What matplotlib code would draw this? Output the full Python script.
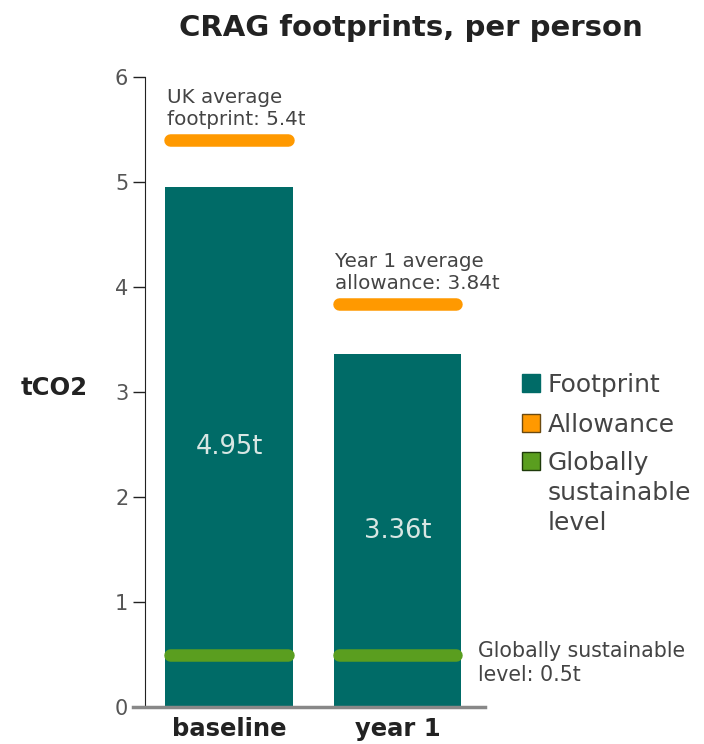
import matplotlib
matplotlib.use("Agg")
import matplotlib.pyplot as plt
from matplotlib.patches import Rectangle

categories = ["baseline", "year 1"]
footprint = [4.95, 3.36]
allowance = [5.4, 3.84]
sustainable = [0.5, 0.5]
allowance_labels = ["UK average\nfootprint: 5.4t", "Year 1 average\nallowance: 3.84t"]
sustainable_label = "Globally sustainable\nlevel: 0.5t"
legend_labels = ["Footprint", "Allowance", "Globally\nsustainable\nlevel"]

TEAL = "#006b67"
ORANGE = "#ff9900"
GREEN = "#5a9e1f"
TXT = "#444444"

plt.rcParams['font.family'] = ['DejaVu Sans']
W, H = 704, 744
fig = plt.figure(figsize=(W/100, H/100), dpi=100)
ax = fig.add_axes([145/W, 1-707/H, (485-145)/W, (707-77)/H])

x = list(range(len(categories)))
bw = 0.76
ax.bar(x, footprint, width=bw, color=TEAL, zorder=2)
half = 0.35
for xi, a, s in zip(x, allowance, sustainable):
    ax.plot([xi-half, xi+half], [a, a], color=ORANGE, lw=9, solid_capstyle='round', zorder=3)
    ax.plot([xi-half, xi+half], [s, s], color=GREEN, lw=9, solid_capstyle='round', zorder=3)

for xi, v in zip(x, footprint):
    ax.text(xi, v*0.5, f"{v:.2f}t", ha='center', va='center', color='#d8e6e3', fontsize=18.5, zorder=4)

for xi, a, lab in zip(x, allowance, allowance_labels):
    ax.annotate(lab, (xi-bw/2, a), xytext=(1, 8), textcoords='offset points',
                ha='left', va='bottom', fontsize=14.3, color=TXT, linespacing=1.2)

ax.annotate(sustainable_label, (1, sustainable[1]), xycoords=('axes fraction', 'data'),
            xytext=(-5, 10), textcoords='offset points', ha='left', va='top',
            fontsize=14.8, color=TXT, linespacing=1.3, annotation_clip=False)

ax.set_xlim(-0.5, 1.52)
ax.set_ylim(0, 6)
ax.set_yticks(range(0, 7))
ax.set_xticks(x)
ax.set_xticklabels(categories, fontsize=17.5, fontweight='bold', color='#222222')
ax.tick_params(axis='x', length=0, pad=7)
ax.tick_params(axis='y', length=9, width=1, colors='#222222', labelcolor='#555555', labelsize=15, pad=3)
for s in ['top', 'right', 'bottom']:
    ax.spines[s].set_visible(False)
ax.spines['left'].set_color('#222222')
ax.plot([-0.035, 1.0], [0, 0], transform=ax.transAxes, color='#888888', lw=2.5, clip_on=False, zorder=5)

ax.set_ylabel("tCO2", rotation=0, fontsize=17.5, fontweight='bold', color='#222222', va='center', ha='center')
ax.yaxis.set_label_coords((54-145)/(485-145), (707-388)/(707-77))

fig.text(411/W, 1-28/H, "CRAG footprints, per person", ha='center', va='center',
         fontsize=21, fontweight='bold', color='#222222')

# legend (square aligned with first line of each label)
leg_colors = [TEAL, ORANGE, GREEN]
leg_edges = [TEAL, '#6b4a10', '#1e3a0a']
row_centers = [383, 423, 461]
line_pitch = 30
for lab, fc, ec, yc in zip(legend_labels, leg_colors, leg_edges, row_centers):
    fig.patches.append(Rectangle((522/W, 1-(yc+9)/H), 18/W, 18/H, transform=fig.transFigure,
                                 facecolor=fc, edgecolor=ec, lw=1))
    for j, line in enumerate(lab.split("\n")):
        fig.text(548/W, 1-(yc+9+j*line_pitch)/H, line, ha='left', va='baseline',
                 fontsize=18, color=TXT)

fig.savefig("out.png", dpi=100)
